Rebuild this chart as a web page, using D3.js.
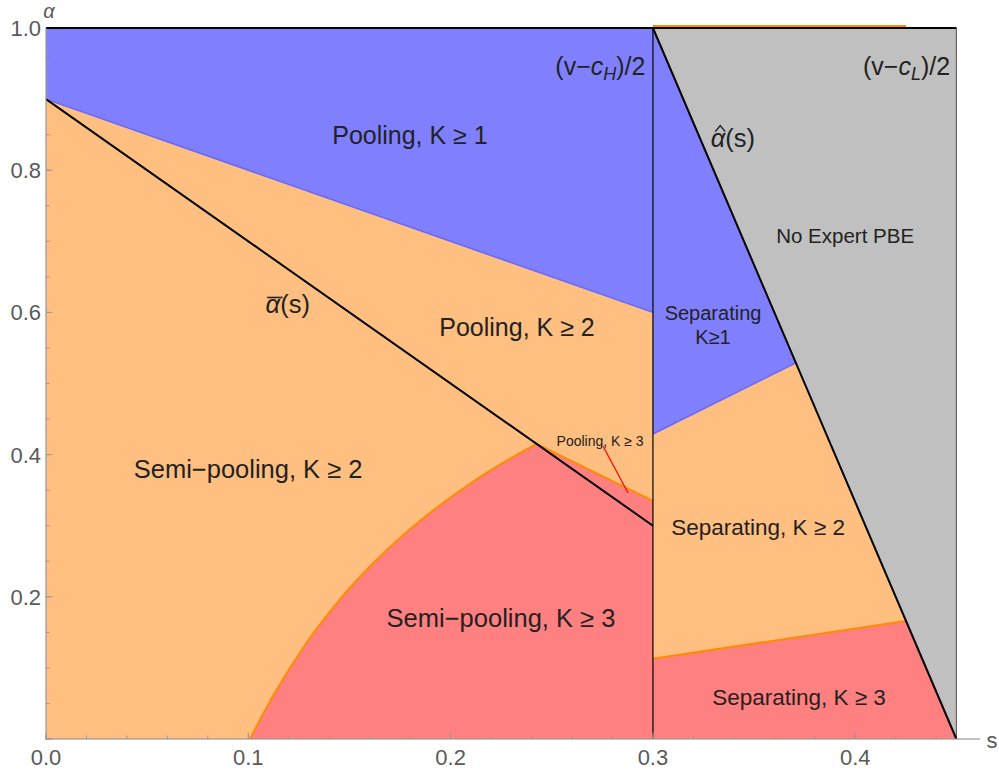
<!DOCTYPE html>
<html><head><meta charset="utf-8">
<script src="https://cdn.jsdelivr.net/npm/d3@7"></script>
<style>body{margin:0;background:#fff} text{font-family:"Liberation Sans",Arial,sans-serif}</style>
</head><body>
<svg id="c" width="999" height="776"></svg>
<script>
// ---- data ----
const xMajorTicks = [0, 0.1, 0.2, 0.3, 0.4];
const yMajorTicks = [0, 0.2, 0.4, 0.6, 0.8, 1.0];
const xMinorTicks = d3.range(0, 0.451, 0.02);
const yMinorTicks = d3.range(0, 1.001, 0.05);
const alphaBarLine = [[0, 0.9], [0.3, 0.3]];
const alphaHatLine = [[0.3, 1.0], [0.45, 0]];
const poolingK1Region = [[0, 1], [0.3, 1], [0.3, 0.6], [0, 0.9]];
const poolingK1Edge = [[0, 0.9], [0.3, 0.6]];
const semiK3Curve = [[0.1008, 0], [0.1124, 0.0615], [0.1289, 0.1358], [0.1453, 0.1965], [0.1618, 0.2476],
  [0.1783, 0.2913], [0.1948, 0.3289], [0.2112, 0.362], [0.2277, 0.3914], [0.2425, 0.4151]];
const poolingK3Edge = [[0.2425, 0.4151], [0.3, 0.335]];
const noExpertRegion = [[0.3, 1], [0.45, 1], [0.45, 0]];
const sepK1Region = [[0.3, 1], [0.3, 0.429], [0.3707, 0.529]];
const sepK1Edge = [[0.3, 0.429], [0.3707, 0.529]];
const sepK2Region = [[0.3, 0.429], [0.3707, 0.529], [0.4251, 0.166], [0.3, 0.113]];
const sepK3Region = [[0.3, 0.113], [0.4251, 0.166], [0.45, 0], [0.3, 0]];
const sepK3Edge = [[0.3, 0.113], [0.4251, 0.166]];
const topOrangeEdge = [[0.3, 1], [0.4251, 1]];
const pointer = [[0.2753, 0.4121], [0.2877, 0.346]];
const labels = [
  {t: "Pooling, K ≥ 1", x: 0.1799, y: 0.8495, s: 25},
  {t: "No Expert PBE", x: 0.395, y: 0.7075, s: 20.5},
  {t: "Pooling, K ≥ 2", x: 0.2328, y: 0.5795, s: 25},
  {t: "Separating", x: 0.3297, y: 0.5991, s: 20},
  {t: "K≥1", x: 0.3297, y: 0.5654, s: 20},
  {t: "Pooling, K ≥ 3", x: 0.2739, y: 0.4191, s: 14},
  {t: "Semi−pooling, K ≥ 2", x: 0.0999, y: 0.3797, s: 25.5},
  {t: "Separating, K ≥ 2", x: 0.352, y: 0.2982, s: 22.5},
  {t: "Semi−pooling, K ≥ 3", x: 0.2249, y: 0.1702, s: 25.5},
  {t: "Separating, K ≥ 3", x: 0.3722, y: 0.0591, s: 22.5}
];

// ---- layout ----
const svg = d3.select("#c");
const x = d3.scaleLinear().domain([0, 0.45]).range([46, 956.4]);
const y = d3.scaleLinear().domain([0, 1]).range([739, 28]);
const line = d3.line().x(d => x(d[0])).y(d => y(d[1]));
const poly = pts => line(pts) + "Z";

const BLUE = "#8080ff", ORANGE = "#ffbf80", RED = "#ff8080", GRAY = "#c0c0c0";
const g = svg.append("g");

// left fills
g.append("path").attr("d", poly([[0, 0], [0.3, 0], [0.3, 1], [0, 1]])).attr("fill", ORANGE);
g.append("path").attr("d", poly(poolingK1Region)).attr("fill", BLUE);
const curveGen = d3.line().x(d => x(d[0])).y(d => y(d[1])).curve(d3.curveMonotoneX);
const redPath = curveGen(semiK3Curve) + "L" + x(0.3) + "," + y(poolingK3Edge[1][1]) + "L" + x(0.3) + "," + y(0) + "Z";
g.append("path").attr("d", redPath).attr("fill", RED);

// right fills
g.append("path").attr("d", poly(noExpertRegion)).attr("fill", GRAY);
g.append("path").attr("d", poly(sepK1Region)).attr("fill", BLUE);
g.append("path").attr("d", poly(sepK2Region)).attr("fill", ORANGE);
g.append("path").attr("d", poly(sepK3Region)).attr("fill", RED);

// boundaries
g.append("path").attr("d", line(poolingK1Edge)).attr("stroke", "#6666ff").attr("stroke-width", 1.5).attr("fill", "none");
g.append("path").attr("d", line(sepK1Edge)).attr("stroke", "#6666ff").attr("stroke-width", 1.5).attr("fill", "none");
g.append("path").attr("d", curveGen(semiK3Curve)).attr("stroke", "#ff8c00").attr("stroke-width", 2).attr("fill", "none");
g.append("path").attr("d", line(poolingK3Edge)).attr("stroke", "#ff8c00").attr("stroke-width", 2).attr("fill", "none");
g.append("path").attr("d", line(sepK3Edge)).attr("stroke", "#ff8c00").attr("stroke-width", 2).attr("fill", "none");
g.append("path").attr("d", line(topOrangeEdge)).attr("stroke", "#ff8c00").attr("stroke-width", 2).attr("fill", "none").attr("transform", "translate(0,-2)");

// axes ticks
const ax = svg.append("g");
ax.selectAll(".xm").data(xMinorTicks).join("line")
  .attr("x1", d => x(d)).attr("x2", d => x(d)).attr("y1", y(0)).attr("y2", y(0) - 3.5)
  .attr("stroke", "#999").attr("stroke-width", 1);
ax.selectAll(".xM").data(xMajorTicks).join("line")
  .attr("x1", d => x(d)).attr("x2", d => x(d)).attr("y1", y(0)).attr("y2", y(0) - 6.5)
  .attr("stroke", "#999").attr("stroke-width", 1);
ax.selectAll(".ym").data(yMinorTicks).join("line")
  .attr("x1", x(0)).attr("x2", x(0) + 3.5).attr("y1", d => y(d)).attr("y2", d => y(d))
  .attr("stroke", "#999").attr("stroke-width", 1);
ax.selectAll(".yM").data(yMajorTicks).join("line")
  .attr("x1", x(0)).attr("x2", x(0) + 6.5).attr("y1", d => y(d)).attr("y2", d => y(d))
  .attr("stroke", "#999").attr("stroke-width", 1);

// main lines
g.append("line").attr("x1", x(0.3)).attr("x2", x(0.3)).attr("y1", y(0)).attr("y2", y(1)).attr("stroke", "#000").attr("stroke-width", 1.2);
svg.append("line").attr("x1", x(0.45)).attr("x2", x(0.45)).attr("y1", y(0)).attr("y2", y(1)).attr("stroke", "#666").attr("stroke-width", 1.2);
svg.append("path").attr("d", line(alphaBarLine)).attr("stroke", "#000").attr("stroke-width", 2).attr("fill", "none");
svg.append("path").attr("d", line(alphaHatLine)).attr("stroke", "#000").attr("stroke-width", 2).attr("fill", "none");
svg.append("line").attr("x1", x(0)).attr("x2", x(0.45)).attr("y1", y(1)).attr("y2", y(1)).attr("stroke", "#000").attr("stroke-width", 2);

// axis lines
svg.append("line").attr("x1", x(0)).attr("x2", x(0)).attr("y1", y(0)).attr("y2", y(1)).attr("stroke", "#999").attr("stroke-width", 1.5).attr("stroke-opacity", 0.8);
svg.append("line").attr("x1", x(0) - 1).attr("x2", 980).attr("y1", y(0)).attr("y2", y(0)).attr("stroke", "#999").attr("stroke-width", 1.5).attr("stroke-opacity", 0.8);

// tick labels
svg.selectAll(".xl").data(xMajorTicks).join("text")
  .attr("x", d => x(d)).attr("y", 765).attr("text-anchor", "middle")
  .attr("font-size", 22).attr("fill", "#5a5a5a").text(d => d3.format(".1f")(d));
svg.selectAll(".yl").data(yMajorTicks.filter(d => d > 0)).join("text")
  .attr("x", 41).attr("y", d => y(d)).attr("dy", "0.36em").attr("text-anchor", "end")
  .attr("font-size", 22).attr("fill", "#5a5a5a").text(d => d3.format(".1f")(d));
svg.append("text").attr("x", 49).attr("y", 18).attr("text-anchor", "middle").attr("font-size", 20)
  .attr("font-style", "italic").attr("fill", "#5a5a5a").text("α");
svg.append("text").attr("x", 992).attr("y", 748).attr("text-anchor", "middle").attr("font-size", 22)
  .attr("fill", "#5a5a5a").text("s");

// region labels
svg.selectAll(".lab").data(labels).join("text")
  .attr("x", d => x(d.x)).attr("y", d => y(d.y)).attr("dy", "0.35em").attr("text-anchor", "middle")
  .attr("font-size", d => d.s).attr("fill", "#222").text(d => d.t);

// pointer
svg.append("path").attr("d", line(pointer)).attr("stroke", "#ff0000").attr("stroke-width", 1.2);

// (v−cH)/2 and (v−cL)/2
function frac(sub, xr, yc) {
  const t = svg.append("text").attr("x", x(xr)).attr("y", y(yc)).attr("dy", "0.35em")
    .attr("text-anchor", "end").attr("font-size", 25).attr("fill", "#222");
  t.append("tspan").text("(v−");
  t.append("tspan").attr("font-style", "italic").text("c");
  t.append("tspan").attr("font-style", "italic").attr("font-size", 18).attr("dy", 5).text(sub);
  t.append("tspan").attr("dy", -5).text(")/2");
}
frac("H", 0.2963, 0.9466);
frac("L", 0.4469, 0.9466);

// alpha-bar label
const abFs = 25.5;
const ab = svg.append("text").attr("x", x(0.1195)).attr("y", y(0.612)).attr("dy", "0.35em")
  .attr("text-anchor", "middle").attr("font-size", abFs).attr("fill", "#222");
ab.append("tspan").attr("font-style", "italic").text("α");
ab.append("tspan").text("(s)");
const abBox = ab.node().getBBox();
const abBase = y(0.612) + 0.35 * abFs;
svg.append("line").attr("x1", abBox.x + 1.5).attr("x2", abBox.x + 17).attr("y1", abBase - 0.6 * abFs).attr("y2", abBase - 0.6 * abFs)
  .attr("stroke", "#222").attr("stroke-width", 1.6);

// alpha-hat label
const ahFs = 25.5;
const ah = svg.append("text").attr("x", x(0.3395)).attr("y", y(0.8453)).attr("dy", "0.35em")
  .attr("text-anchor", "middle").attr("font-size", ahFs).attr("fill", "#222");
ah.append("tspan").attr("font-style", "italic").text("α");
ah.append("tspan").text("(s)");
const ahBox = ah.node().getBBox();
const ahBase = y(0.8453) + 0.35 * ahFs;
const hx = ahBox.x + 9.5, hy = ahBase - 0.6 * ahFs;
svg.append("path").attr("d", `M${hx - 5},${hy}L${hx},${hy - 6}L${hx + 5},${hy}`)
  .attr("stroke", "#222").attr("stroke-width", 1.5).attr("fill", "none");
</script>
</body></html>
